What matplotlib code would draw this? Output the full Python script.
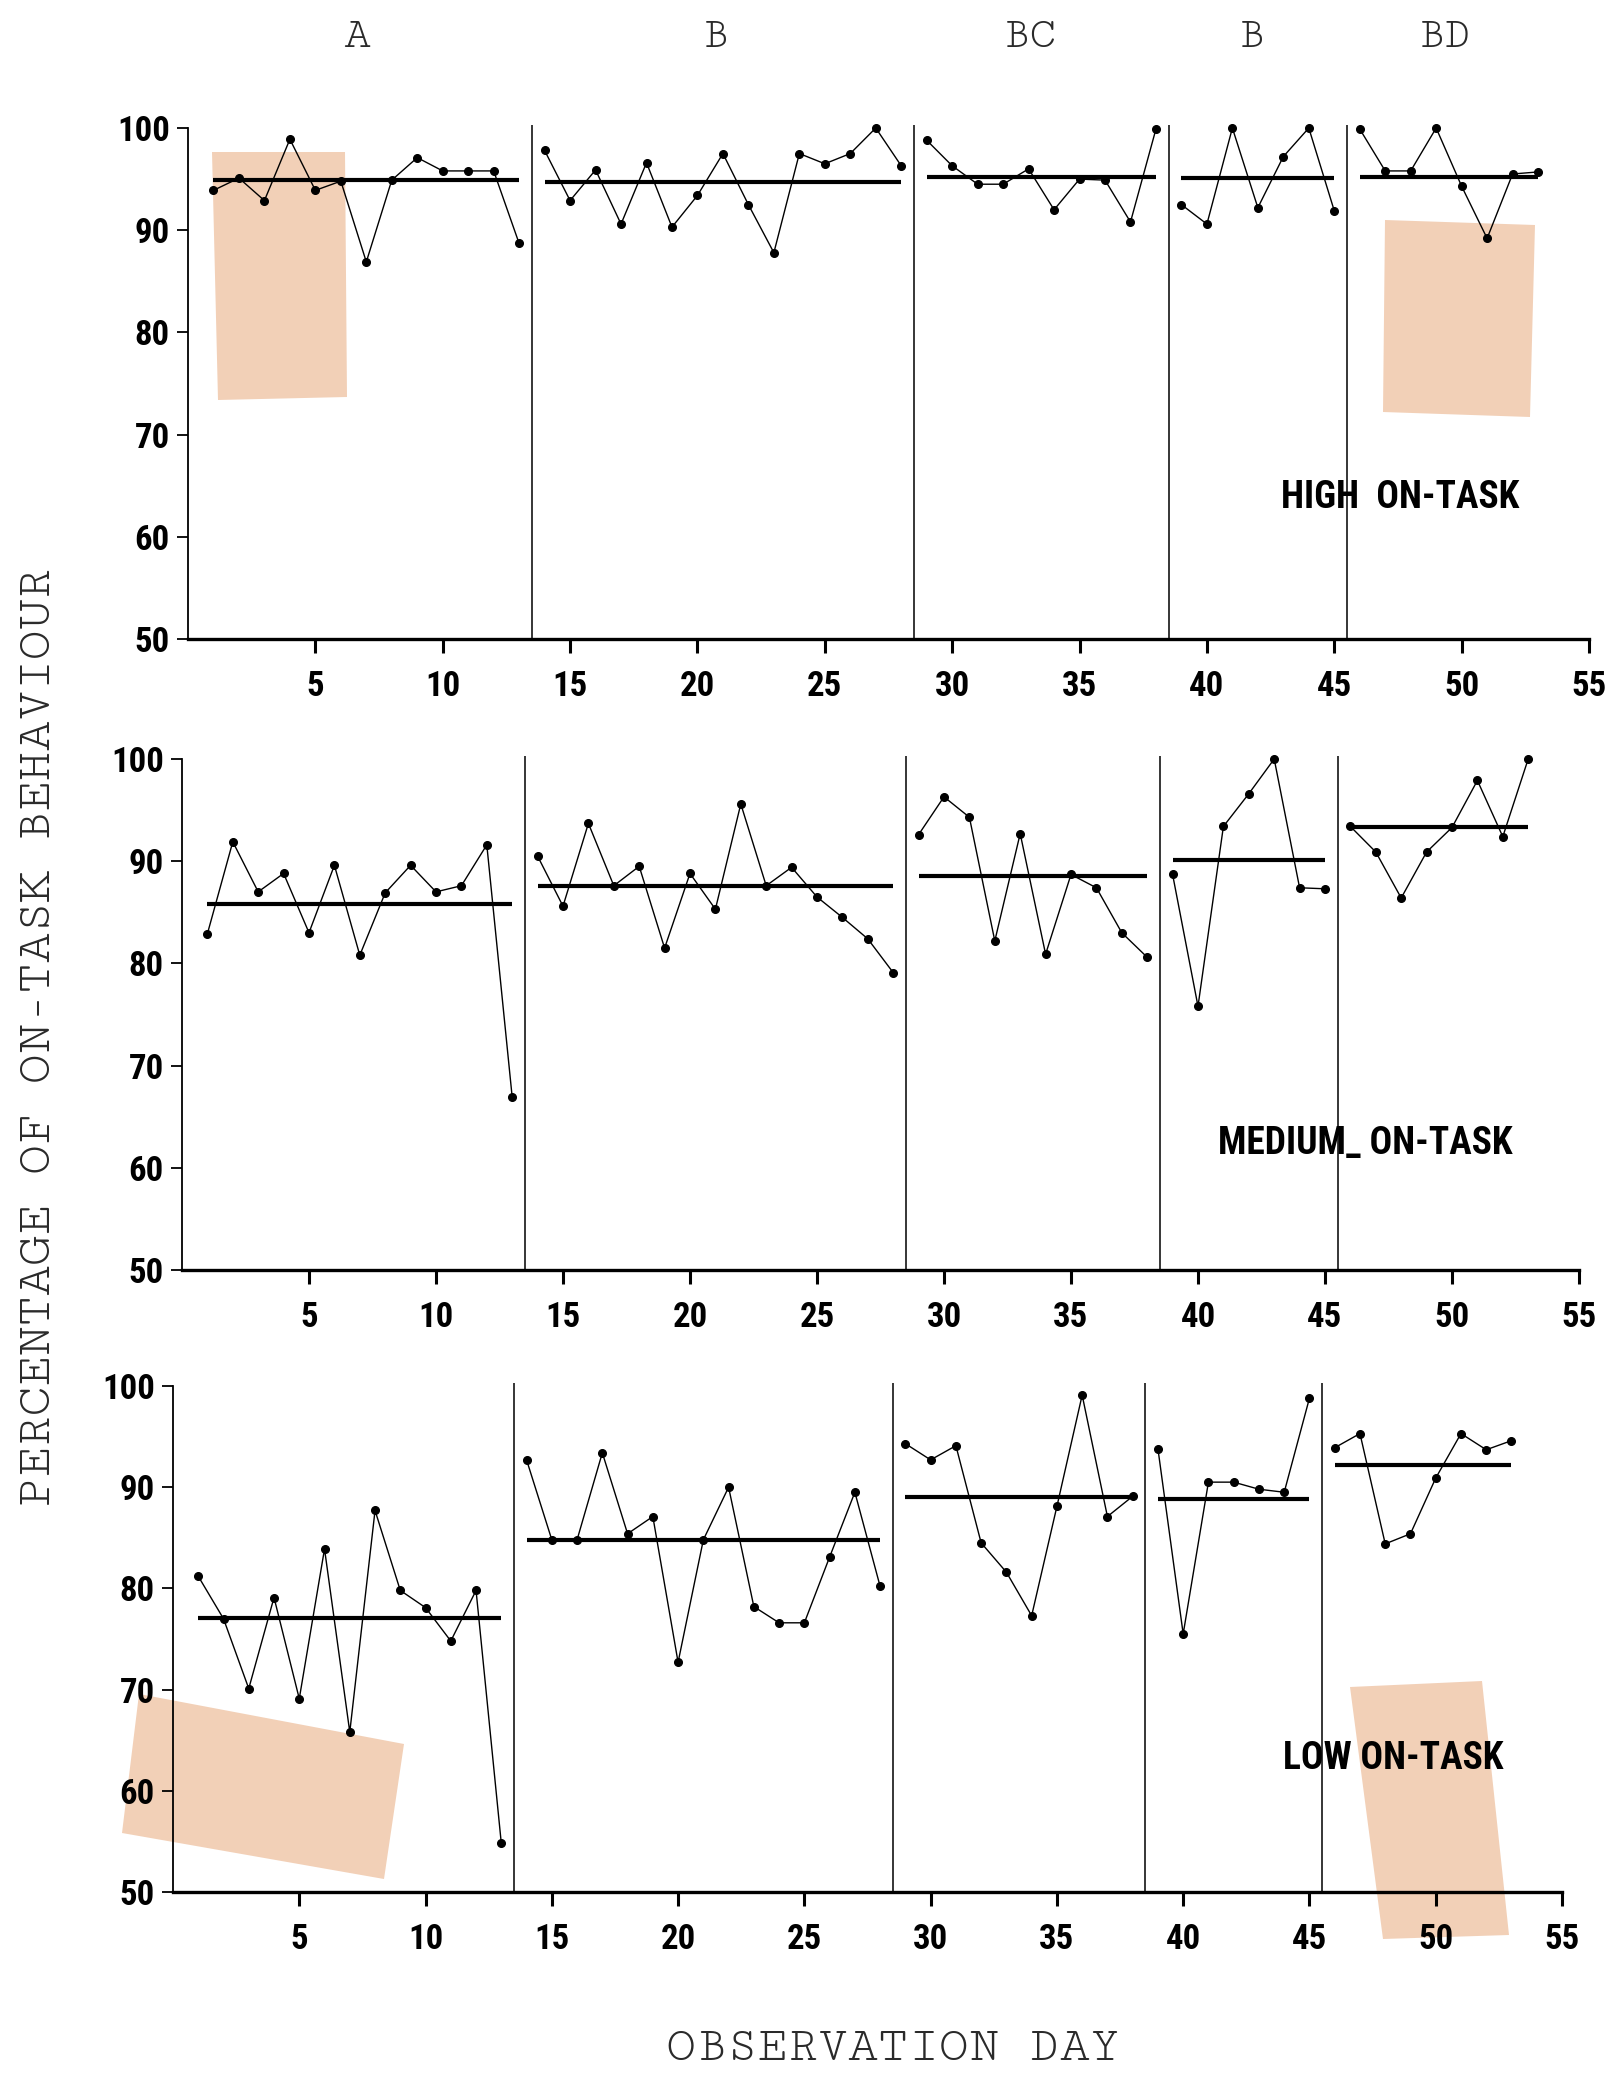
import matplotlib
matplotlib.use("Agg")
import matplotlib.pyplot as plt
from matplotlib import font_manager
from matplotlib.patches import Polygon

# phases (days) and the labels printed at the top
phase_names = ["A", "B", "BC", "B", "BD"]
phase_days = [(1, 13), (14, 28), (29, 38), (39, 45), (46, 53)]
phase_cuts = [13.5, 28.5, 38.5, 45.5]

# HIGH ON-TASK, one list per phase
high_A = [93.9, 95.1, 92.9, 98.9, 93.9, 94.8, 86.9, 94.9, 97.1, 95.8, 95.8, 95.8, 88.7]
high_B = [97.8, 92.9, 95.9, 90.6, 96.6, 90.3, 93.4, 97.5, 92.5, 87.8, 97.5, 96.5, 97.5, 100, 96.3]
high_BC = [98.8, 96.3, 94.5, 94.5, 96.0, 92.0, 95.0, 94.9, 90.8, 99.9]
high_B2 = [92.5, 90.6, 100, 92.2, 97.2, 100, 91.9]
high_BD = [99.9, 95.8, 95.8, 100, 94.3, 89.2, 95.5, 95.7]
high_means = [94.9, 94.7, 95.2, 95.1, 95.2]

# MEDIUM ON-TASK
med_A = [82.9, 91.9, 87.0, 88.8, 83.0, 89.6, 80.8, 86.9, 89.6, 87.0, 87.6, 91.6, 66.9]
med_B = [90.5, 85.6, 93.7, 87.6, 89.5, 81.5, 88.8, 85.3, 95.6, 87.6, 89.4, 86.5, 84.5, 82.4, 79.1]
med_BC = [92.6, 96.3, 94.3, 82.2, 92.7, 80.9, 88.7, 87.4, 83.0, 80.6]
med_B2 = [88.7, 75.8, 93.4, 96.6, 100, 87.4, 87.3]
med_BD = [93.4, 90.9, 86.4, 90.9, 93.3, 97.9, 92.4, 100]
med_means = [85.8, 87.6, 88.6, 90.1, 93.3]

# LOW ON-TASK
low_A = [81.2, 77.0, 70.1, 79.1, 69.1, 83.9, 65.8, 87.7, 79.8, 78.1, 74.8, 79.8, 54.8]
low_B = [92.7, 84.8, 84.8, 93.4, 85.4, 87.1, 72.7, 84.8, 90.0, 78.2, 76.6, 76.6, 83.1, 89.5, 80.2]
low_BC = [94.3, 92.7, 94.1, 84.5, 81.6, 77.3, 88.1, 99.1, 87.1, 89.1]
low_B2 = [93.8, 75.5, 90.5, 90.5, 89.8, 89.5, 98.8]
low_BD = [93.9, 95.3, 84.4, 85.4, 90.9, 95.3, 93.7, 94.6]
low_means = [77.1, 84.8, 89.0, 88.8, 92.2]

panels = [
    ("HIGH  ON-TASK", [high_A, high_B, high_BC, high_B2, high_BD], high_means),
    ("MEDIUM_ ON-TASK", [med_A, med_B, med_BC, med_B2, med_BD], med_means),
    ("LOW ON-TASK", [low_A, low_B, low_BC, low_B2, low_BD], low_means),
]


def pick(cands):
    have = set(f.name for f in font_manager.fontManager.ttflist)
    for c in cands:
        if c in have:
            return c
    return cands[-1]


mono = pick(["Cutive Mono", "Courier Prime", "Liberation Mono", "DejaVu Sans Mono"])
narrow = pick(["Roboto Condensed", "Archivo Narrow", "PT Sans Narrow", "Liberation Sans Narrow", "DejaVu Sans"])

W, H = 1616, 2075
fig = plt.figure(figsize=(W / 100, H / 100), dpi=100)
fig.patch.set_facecolor("white")

# axes boxes in pixels: left (day 0), right (day 55), y of value 100, y of value 50
boxes = [(188, 1589, 128, 639), (182, 1579, 759, 1270), (173, 1562, 1386, 1892)]
label_pos = [(47.6, 63.8), (46.6, 62.4), (48.3, 63.2)]

for (title, series, means), (x0, x1, y100, y50), (tx, ty) in zip(panels, boxes, label_pos):
    per_unit = (y50 - y100) / 50
    top = y100 - 1.5 * per_unit
    ax = fig.add_axes([x0 / W, 1 - y50 / H, (x1 - x0) / W, (y50 - top) / H])
    ax.set_facecolor("none")
    ax.set_xlim(0, 55)
    ax.set_ylim(50, 101.5)

    for (d0, d1), vals, m in zip(phase_days, series, means):
        days = list(range(d0, d1 + 1))
        ax.plot(days, vals, color="black", lw=1.0, marker="o", ms=5.5,
                mfc="black", mec="black", zorder=3)
        ax.plot([d0, d1], [m, m], color="black", lw=3.0, solid_capstyle="butt", zorder=2)

    ax.vlines(phase_cuts, 50, 100.3, color="black", lw=1.1)

    for s in ["top", "right"]:
        ax.spines[s].set_visible(False)
    ax.spines["left"].set_bounds(50, 100)
    ax.spines["left"].set_linewidth(1.3)
    ax.spines["bottom"].set_linewidth(2.4)

    ax.set_xticks(range(5, 56, 5))
    ax.set_yticks(range(50, 101, 10))
    ax.tick_params(axis="x", direction="out", length=10, width=2.2, pad=12)
    ax.tick_params(axis="y", direction="out", length=8, width=1.3, pad=5)
    for lab in ax.get_xticklabels() + ax.get_yticklabels():
        lab.set_fontfamily(narrow)
        lab.set_fontweight("bold")
        lab.set_fontsize(25)

    ax.text(tx, ty, title, ha="center", va="center", fontsize=27,
            fontweight="bold", family=narrow)

# phase labels along the top
phase_label_x = [357, 715, 1030, 1251, 1445]
for name, px in zip(phase_names, phase_label_x):
    fig.text(px / W, 1 - 38 / H, name, ha="center", va="center",
             fontsize=32, family=mono, color="#2a2a2a")

fig.text(40 / W, 0.5, "PERCENTAGE OF ON-TASK BEHAVIOUR", rotation=90,
         ha="center", va="center", fontsize=36, family=mono, color="#2a2a2a")
fig.text(893 / W, 1 - 2050 / H, "OBSERVATION DAY", ha="center", va="center",
         fontsize=36, family=mono, color="#2a2a2a")

# scotch tape marks left on the scanned page
tapes = [
    [(212, 152), (345, 152), (347, 397), (218, 400)],
    [(1385, 220), (1535, 225), (1530, 417), (1383, 412)],
    [(139, 1694), (404, 1744), (384, 1879), (122, 1833)],
    [(1350, 1687), (1482, 1681), (1509, 1935), (1383, 1939)],
]
for corners in tapes:
    pts = [(x / W, 1 - y / H) for x, y in corners]
    fig.add_artist(Polygon(pts, closed=True, transform=fig.transFigure,
                           facecolor="#f0c8ab", edgecolor="none", alpha=0.85, zorder=-1))

fig.savefig("out.png", dpi=100)
